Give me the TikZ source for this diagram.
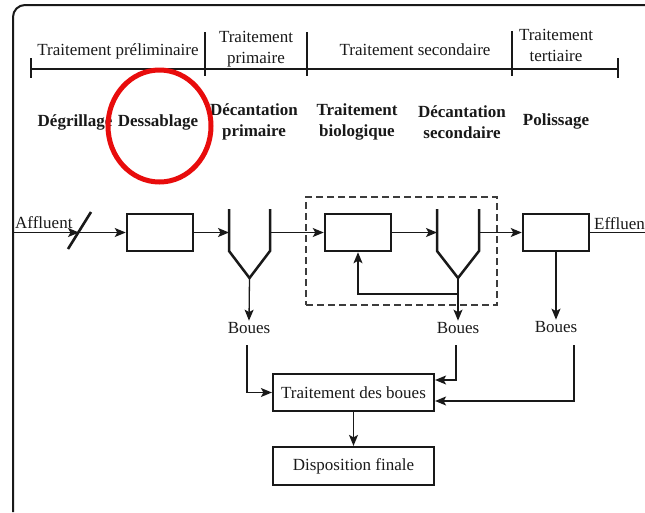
\documentclass[tikz,border=0pt]{standalone}
\usepackage{fontspec}
\setmainfont{Liberation Serif}
\usetikzlibrary{arrows.meta}
\definecolor{ink}{RGB}{25,25,25}
\definecolor{mark}{RGB}{232,12,12}
\begin{document}
\begin{tikzpicture}[x=1pt,y=-1pt,
  every node/.style={font=\fontsize{17}{21}\selectfont, inner sep=0pt, text=ink},
  lbl/.style={align=center},
  stage/.style={align=center, font=\fontsize{17}{21}\selectfont\bfseries},
  unit/.style={draw=ink, line width=2.5pt},
  flow/.style={draw=ink, line width=1.3pt, -{Stealth[length=11pt,width=9pt,inset=2.5pt]}},
  ln/.style={draw=ink, line width=1.3pt},
  wall/.style={draw=ink, line width=2.5pt, line join=miter},
  tick/.style={draw=ink, line width=1.5pt},
]
\useasboundingbox (0,0) rectangle (645,512);
% outer frame
\draw[draw=ink, line width=2pt, rounded corners=12pt] (13,512) -- (13,5) -- (645,5);

% timeline
\coordinate (t0) at (31,69);
\coordinate (t5) at (618,69);
\draw[tick] (t0) -- (t5);
\draw[tick] (31,58) -- (31,78);
\draw[tick] (205,32) -- (205,76);
\draw[tick] (307,32) -- (307,76);
\draw[tick] (512,31) -- (512,76);
\draw[tick] (618,58) -- (618,78);

\node[anchor=base] (p1) at (118,55) {Traitement préliminaire};
\node[lbl] (p2) at (256,49) {Traitement\\primaire};
\node[anchor=base] (p3) at (415,55) {Traitement secondaire};
\node[lbl] (p4) at (556,45) {Traitement\\tertiaire};

% stage names
\node[stage, anchor=base] (s1) at (75,126) {Dégrillage};
\node[stage, anchor=base] (s2) at (158,126) {Dessablage};
\node[stage] (s3) at (254,122) {Décantation\\primaire};
\node[stage] (s4) at (357,122) {Traitement\\biologique};
\node[stage] (s5) at (462,122) {Décantation\\secondaire};
\node[stage, anchor=base] (s6) at (556,125) {Polissage};

\draw[draw=mark, line width=5pt] (159.5,126) ellipse [x radius=51.5, y radius=56];

% dashed group
\node[draw=ink!85, dashed, dash pattern=on 7pt off 4pt, line width=1.5pt,
      minimum width=191pt, minimum height=108pt] (grp) at (401.5,251) {};

% units
\node[unit, minimum width=66pt, minimum height=37pt] (box1) at (160,232.5) {};
\node[unit, minimum width=66pt, minimum height=37pt] (box2) at (358,232.5) {};
\node[unit, minimum width=66pt, minimum height=37pt] (box3) at (556,232.5) {};

% clarifiers
\coordinate (c1in) at (229,232.5);
\coordinate (c1out) at (270,232.5);
\coordinate (c1bot) at (249.5,278);
\draw[wall] (229,209) -- (229,251) -- (c1bot) -- (270,251) -- (270,209);
\coordinate (c2in) at (437,232.5);
\coordinate (c2out) at (479,232.5);
\coordinate (c2bot) at (458,278);
\draw[wall] (437,209) -- (437,251) -- (c2bot) -- (479,251) -- (479,209);

% inlet
\node[anchor=base west] (aff) at (15,228) {Affluent};
\coordinate (inlet) at (14,232.5);
\coordinate (scr) at (79,232.5);
\draw[line width=2.6pt, draw=ink] (68,249) -- (91,212);
\draw[flow] (inlet) -- (scr);
\draw[flow] (scr) -- (box1.west);
\draw[flow] (box1.east) -- (c1in);
\draw[flow] (c1out) -- (box2.west);
\draw[flow] (box2.east) -- (c2in);
\draw[flow] (c2out) -- (box3.west);
\coordinate (outlet) at (645,232.5);
\draw[ln] (box3.east) -- (outlet);
\node[anchor=base west] (eff) at (594,229) {Effluent};

% recirculation
\coordinate (r1) at (458,294);
\draw[flow] (c2bot) -- (r1) -| (box2.south);

% sludge
\node (b1) at (249,328.5) {Boues};
\node (b2) at (458,328.5) {Boues};
\node (b3) at (556,327.5) {Boues};
\draw[flow] (c1bot) -- ([yshift=2pt]b1.north);
\draw[flow] (c2bot) -- ([yshift=2pt]b2.north);
\draw[flow] (box3.south) -- ([yshift=2pt]b3.north);

% sludge treatment
\node[unit, line width=2.2pt, minimum width=161pt, minimum height=37pt] (tdb) at (353.5,392.5) {Traitement des boues};
\node[unit, line width=2.2pt, minimum width=161pt, minimum height=38pt] (disp) at (353.5,466) {Disposition finale};

\coordinate (k1) at (247,345);
\coordinate (k2) at (456,345);
\coordinate (k3) at (574,345);
\coordinate (h2) at (0,380);
\coordinate (h3) at (0,401);
\draw[flow] (k1) |- (tdb.west);
\draw[flow] (k2) |- (tdb.east |- h2);
\draw[flow] (k3) |- (tdb.east |- h3);
\draw[flow] (tdb.south) -- (disp.north);
\end{tikzpicture}
\end{document}
